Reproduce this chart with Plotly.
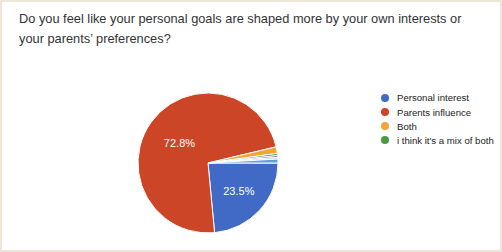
import plotly.graph_objects as go

# ---- data ----
title_lines = [
    "Do you feel like your personal goals are shaped more by your own interests or",
    "your parents\u2019 preferences?",
]
labels = [
    "Personal interest",
    "Parents influence",
    "Both",
    "i think it's a mix of both",
    "Other answer A",
    "Other answer B",
    "Other answer C",
]
values = [23.5, 72.8, 1.5, 0.5, 0.4, 0.4, 0.9]
colors = ["#4169c6", "#cc4527", "#f2a33a", "#4a9a45", "#9b3fa0", "#b9c6d6", "#5ea0d4"]
legend_count = 4  # entries visible on the first legend page

# ---- figure ----
total = sum(values)
slice_text = [f"{v / total * 100:.1f}%" if v / total > 0.05 else "" for v in values]

fig = go.Figure()
fig.add_trace(go.Pie(
    labels=labels,
    values=values,
    text=slice_text,
    textinfo="text",
    textposition="inside",
    insidetextfont=dict(color="white", size=11, family="Liberation Sans, Arial"),
    marker=dict(colors=colors, line=dict(color="white", width=1)),
    sort=False,
    direction="clockwise",
    rotation=90,
    showlegend=False,
    hoverinfo="label+percent",
    domain=dict(x=[(208 - 70) / 502, (208 + 70) / 502], y=[19 / 252, 159 / 252]),
))

shapes = [dict(type="rect", xref="paper", yref="paper", x0=2 / 502, x1=500 / 502,
               y0=2 / 252, y1=250 / 252, fillcolor="white", line=dict(width=0), layer="below")]
annotations = []
# title
for i, line in enumerate(title_lines):
    annotations.append(dict(
        text=line, xref="paper", yref="paper", x=17 / 502, y=1 - (19 + i * 19) / 252,
        xanchor="left", yanchor="middle", showarrow=False,
        font=dict(size=12.8, color="#333333", family="Liberation Sans, Arial"),
    ))
# manual legend
for i in range(legend_count):
    cy = 98 + i * 14
    shapes.append(dict(type="circle", xref="paper", yref="paper",
                       x0=(385 - 4) / 502, x1=(385 + 4) / 502,
                       y0=1 - (cy + 4) / 252, y1=1 - (cy - 4) / 252,
                       fillcolor=colors[i], line=dict(width=0)))
    annotations.append(dict(
        text=labels[i], xref="paper", yref="paper", x=395 / 502, y=1 - cy / 252,
        xanchor="left", yanchor="middle", showarrow=False,
        font=dict(size=9.6, color="#222222", family="Liberation Sans, Arial"),
    ))

fig.update_layout(
    width=502, height=252,
    margin=dict(l=0, r=0, t=0, b=0),
    paper_bgcolor="#efe6d8",
    plot_bgcolor="white",
    shapes=shapes,
    annotations=annotations,
)
fig.write_html("out.html")
